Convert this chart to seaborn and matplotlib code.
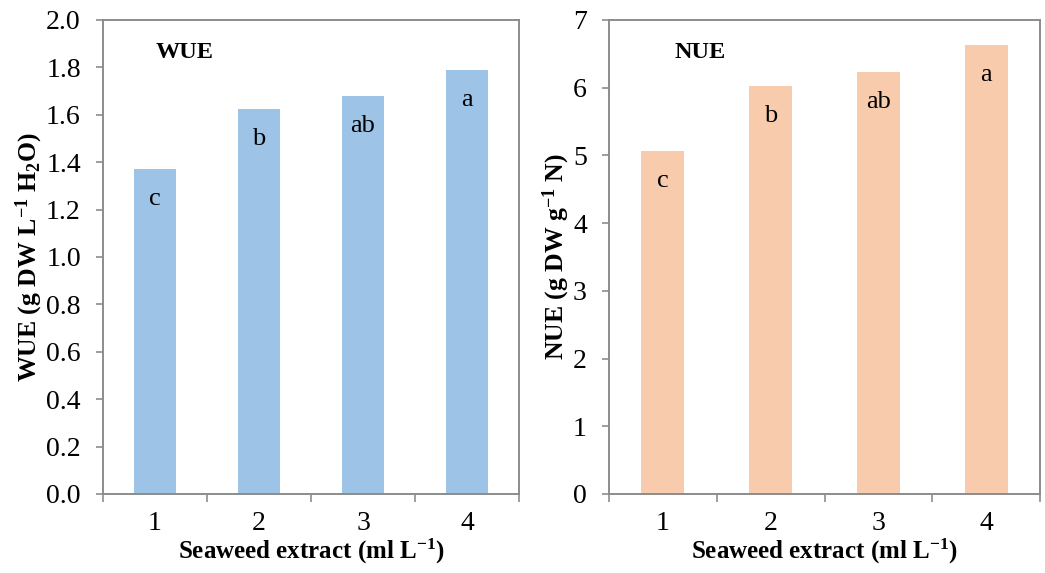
import numpy as np
import pandas as pd
import matplotlib
matplotlib.use("Agg")
import matplotlib.pyplot as plt
import seaborn as sns

# ================= DATA =================
doses = ["1", "2", "3", "4"]                      # seaweed extract, ml L-1
wue = [1.373, 1.626, 1.681, 1.788]                # g DW L-1 H2O
nue = [5.07, 6.02, 6.23, 6.63]                    # g DW g-1 N
wue_letters = ["c", "b", "ab", "a"]
nue_letters = ["c", "b", "ab", "a"]
wue_ticks = [0.0, 0.2, 0.4, 0.6, 0.8, 1.0, 1.2, 1.4, 1.6, 1.8, 2.0]
nue_ticks = [0, 1, 2, 3, 4, 5, 6, 7]

BLUE = "#9DC3E6"
PEACH = "#F8CBAD"
GRAY = "#8c8c8c"

sns.set_style("white")
plt.rcParams["font.family"] = ["Liberation Serif", "DejaVu Serif"]
plt.rcParams["mathtext.fontset"] = "custom"
plt.rcParams["mathtext.rm"] = "Liberation Serif:bold"
plt.rcParams["mathtext.it"] = "Liberation Serif:bold"
plt.rcParams["mathtext.bf"] = "Liberation Serif:bold"
plt.rcParams["text.color"] = "black"
plt.rcParams["axes.labelcolor"] = "black"
plt.rcParams["xtick.color"] = "black"
plt.rcParams["ytick.color"] = "black"


def draw_panel(ax, values, letters, ticks, color, title, title_x, ylabel, fmt):
    df = pd.DataFrame({"dose": doses, "value": values})
    sns.barplot(data=df, x="dose", y="value", color=color, width=0.4,
                saturation=1, ax=ax, edgecolor="none")
    ax.set_ylim(ticks[0], ticks[-1])
    ax.set_xlim(-0.5, len(doses) - 0.5)
    ax.set_yticks(ticks)
    ax.set_yticklabels([fmt.format(t) for t in ticks], fontsize=20)
    ax.set_xticks(range(len(doses)))
    ax.set_xticklabels(doses, fontsize=20)
    ax.set_xticks(np.arange(-0.5, len(doses), 1.0), minor=True)
    ax.tick_params(axis="x", which="major", bottom=True, length=0, pad=12)
    ax.tick_params(axis="x", which="minor", bottom=True, length=6,
                   color=GRAY, width=1.2, labelcolor="black")
    ax.tick_params(axis="y", left=True, length=5, color=GRAY, width=1.2,
                   pad=11, labelcolor="black")
    for s in ax.spines.values():
        s.set_color(GRAY)
        s.set_linewidth(1.4)
    # significance letters inside the bars
    for i, (v, lab) in enumerate(zip(values, letters)):
        ax.annotate(lab, (i, v), xytext=(0, -26), textcoords="offset points",
                    ha="center", va="baseline", fontsize=19)
    ax.text(title_x, 0.932, title, transform=ax.transAxes, fontsize=17.5,
            fontweight="bold", ha="left", va="center")
    ax.set_ylabel(ylabel, fontsize=18.5, fontweight="bold", labelpad=1)
    ax.set_xlabel(r"Seaweed extract (ml L$^{-1}$)", fontsize=18,
                  fontweight="bold", labelpad=1)


fig = plt.figure(figsize=(10.45, 5.73), dpi=100)
ax1 = fig.add_axes([0.0986, 0.1379, 0.3981, 0.8272])
ax2 = fig.add_axes([0.5828, 0.1379, 0.4124, 0.8272])

draw_panel(ax1, wue, wue_letters, wue_ticks, BLUE, "WUE", 0.127,
           r"WUE (g DW L$^{-1}$ H$_{2}$O)", "{:.1f}")
draw_panel(ax2, nue, nue_letters, nue_ticks, PEACH, "NUE", 0.151,
           r"NUE (g DW g$^{-1}$ N)", "{:.0f}")

fig.savefig("out.png", dpi=100)
